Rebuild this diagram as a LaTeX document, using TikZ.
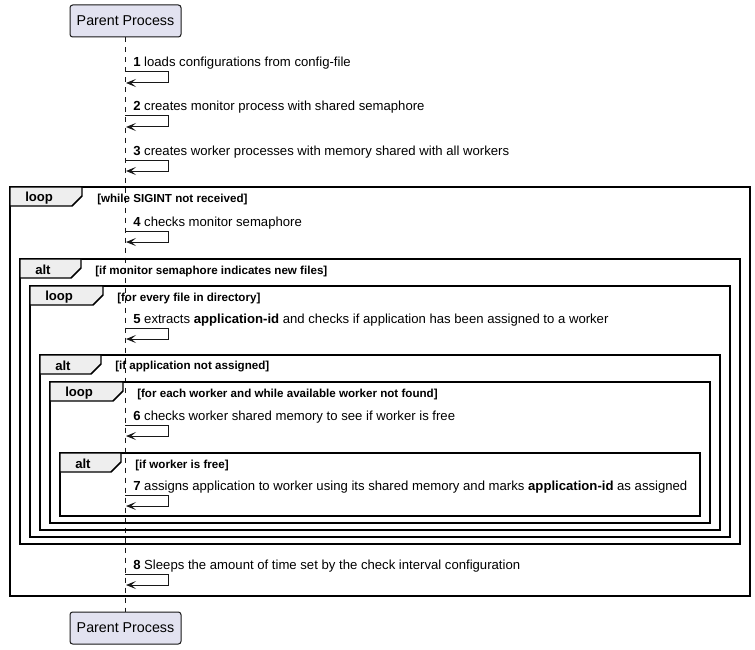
\documentclass[tikz,border=0pt]{standalone}
\usepackage{fontspec}
\setmainfont{Liberation Sans}
\usetikzlibrary{arrows.meta}
\definecolor{partfill}{HTML}{E2E2F0}
\definecolor{lncol}{HTML}{181818}
\definecolor{tabfill}{HTML}{EEEEEE}
\begin{document}
\begin{tikzpicture}[x=0.75pt,y=-0.75pt,
  part/.style={draw=lncol, line width=0.75pt, fill=partfill, rounded corners=2pt,
    minimum width=83.25pt, minimum height=24pt, inner sep=0pt,
    font=\fontsize{10.7}{12}\selectfont},
  life/.style={draw=lncol, line width=0.6pt, dash pattern=on 3.75pt off 3.75pt},
  msg/.style={anchor=base west, inner sep=0pt, font=\fontsize{9.85}{11}\selectfont},
  selfarrow/.style={draw=lncol, line width=0.75pt, -{Stealth[length=7.5pt, width=6pt, inset=3.5pt]}},
  frameline/.style={draw=black, line width=1.1pt},
  tabshape/.style={draw=black, line width=1.1pt, fill=tabfill},
  tablabel/.style={anchor=west, inner sep=0pt, font=\bfseries\fontsize{9.85}{11}\selectfont},
  condlabel/.style={anchor=west, inner sep=0pt, font=\bfseries\fontsize{8.7}{10}\selectfont}]
\useasboundingbox (0,0) rectangle (755,649);
% participants
\node[part] (pt) at (125.5,21) {Parent Process};
\node[part] (pb) at (125.5,628) {Parent Process};
\draw[life] (pt.south -| 125,0) -- (pb.north -| 125,0);
% frames
\foreach \xa/\ya/\xb/\yb/\tw/\lab/\co/\cond/\nm in {
  10/187/750/596/72/loop/87/{[while SIGINT not received]}/fa,
  20/259/740/544/61/alt/75/{[if monitor semaphore indicates new files]}/fb,
  30/286/730/537/73/loop/87/{[for every file in directory]}/fc,
  40/355/720/530/61/alt/75/{[if application not assigned]}/fd,
  50/382/710/523/73/loop/87/{[for each worker and while available worker not found]}/fe,
  60/453/700/516/61/alt/75/{[if worker is free]}/ff}{
  \draw[frameline] (\xa,\ya) rectangle (\xb,\yb);
  \draw[tabshape] (\xa,\ya) -- (\xa+\tw,\ya) -- (\xa+\tw,\ya+9) -- (\xa+\tw-10,\ya+19) -- (\xa,\ya+19) -- cycle;
  \node[tablabel] (\nm-tab) at (\xa+15,\ya+11) {\lab};
  \node[condlabel] (\nm-cond) at (\xa+\co,\ya+12) {\cond};
}
% self messages
\foreach \ty/\ay/\txt/\nm in {
  67/72/{\textbf{1} loads configurations from config-file}/m1,
  111/116/{\textbf{2} creates monitor process with shared semaphore}/m2,
  155/160/{\textbf{3} creates worker processes with memory shared with all workers}/m3,
  226/231/{\textbf{4} checks monitor semaphore}/m4,
  323/328/{\textbf{5} extracts \textbf{application-id} and checks if application has been assigned to a worker}/m5,
  420/425/{\textbf{6} checks worker shared memory to see if worker is free}/m6,
  490/495/{\textbf{7} assigns application to worker using its shared memory and marks \textbf{application-id} as assigned}/m7,
  569/574/{\textbf{8} Sleeps the amount of time set by the check interval configuration}/m8}{
  \node[msg] (\nm) at (133,\ty) {\txt};
  \coordinate (\nm-a) at (125,\ay);
  \coordinate (\nm-b) at (168,\ay);
  \coordinate (\nm-c) at (168,\ay+11);
  \coordinate (\nm-d) at (126,\ay+11);
  \draw[selfarrow] (\nm-a) -- (\nm-b) -- (\nm-c) -- (\nm-d);
}
\end{tikzpicture}
\end{document}
